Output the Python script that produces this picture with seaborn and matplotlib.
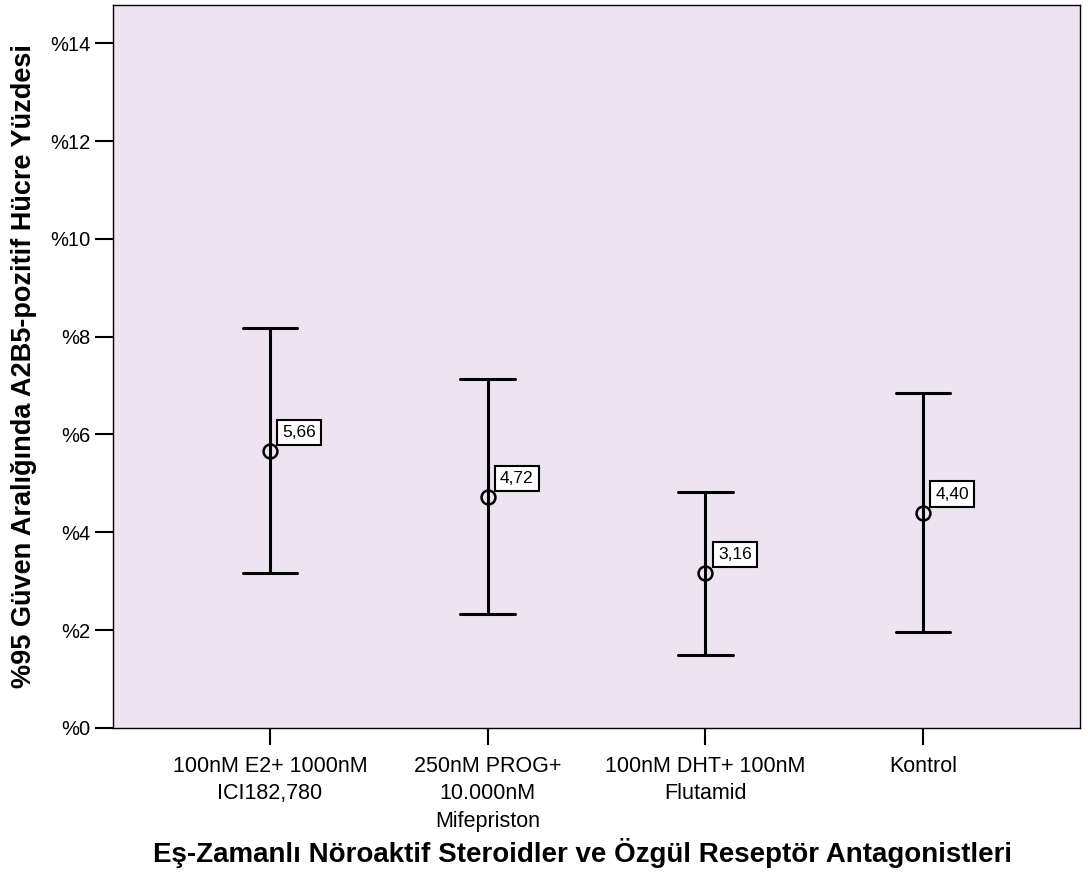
import numpy as np
import pandas as pd
import matplotlib
matplotlib.use("Agg")
import matplotlib.pyplot as plt
import seaborn as sns

# veriler
gruplar = ["100nM E2+ 1000nM\nICI182,780",
           "250nM PROG+\n10.000nM\nMifepriston",
           "100nM DHT+ 100nM\nFlutamid",
           "Kontrol"]
ortalama = [5.66, 4.72, 3.16, 4.40]
alt_sinir = [3.16, 2.32, 1.50, 1.97]
ust_sinir = [8.17, 7.13, 4.82, 6.84]
ytick_degerleri = [0, 2, 4, 6, 8, 10, 12, 14]

sns.set_style("white")
plt.rcParams['font.family'] = ['Liberation Sans', 'DejaVu Sans']
plt.rcParams['text.color'] = 'black'
plt.rcParams['axes.labelcolor'] = 'black'

# her grup icin alt, ortalama, ust -> median = ortalama, min/max = GA
df = pd.DataFrame({
    "grup": np.repeat(gruplar, 3),
    "deger": np.ravel(np.column_stack([alt_sinir, ortalama, ust_sinir])),
})

fig = plt.figure(figsize=(10.88, 8.81), dpi=100)
ax = fig.add_axes([0.1039, 0.1737, 0.8887, 0.8206])
ax.set_facecolor("#EEE3F1")

sns.pointplot(data=df, x="grup", y="deger", order=gruplar,
              estimator="median", errorbar=lambda v: (v.min(), v.max()),
              color="black", linestyle="none", markers="o", capsize=0.25,
              err_kws={"linewidth": 2.2}, markersize=10,
              markerfacecolor="none", markeredgewidth=1.8, ax=ax)

for i, m in enumerate(ortalama):
    ax.annotate(f"{m:.2f}".replace(".", ","), xy=(i, m), xytext=(9, 8),
                textcoords="offset points", ha="left", va="bottom",
                fontsize=12.5, zorder=5,
                bbox=dict(boxstyle="square,pad=0.3", fc="white", ec="black", lw=1.5))

ax.set_xlim(-0.72, 3.72)
ax.set_ylim(0, 14.78)
ax.set_yticks(ytick_degerleri)
ax.set_yticklabels([f"%{v}" for v in ytick_degerleri], fontsize=14.5)
ax.set_xticks(range(len(gruplar)))
ax.set_xticklabels(gruplar, fontsize=15.5, linespacing=1.42)
ax.tick_params(axis="y", left=True, direction="out", length=13, width=1.5,
               colors="black", pad=3)
ax.tick_params(axis="x", bottom=True, direction="out", length=12, width=1.5,
               colors="black", pad=8)

for s in ax.spines.values():
    s.set_color("black")
    s.set_linewidth(1.0)

ax.set_xlabel("Eş-Zamanlı Nöroaktif Steroidler ve Özgül Reseptör Antagonistleri",
              fontsize=20, fontweight="bold")
ax.set_ylabel("%95 Güven Aralığında A2B5-pozitif Hücre Yüzdesi",
              fontsize=19.5, fontweight="bold")
ax.xaxis.set_label_coords(0.486, -0.152)
ax.yaxis.set_label_coords(-0.079, 0.5)

fig.savefig("out.png", dpi=100)
